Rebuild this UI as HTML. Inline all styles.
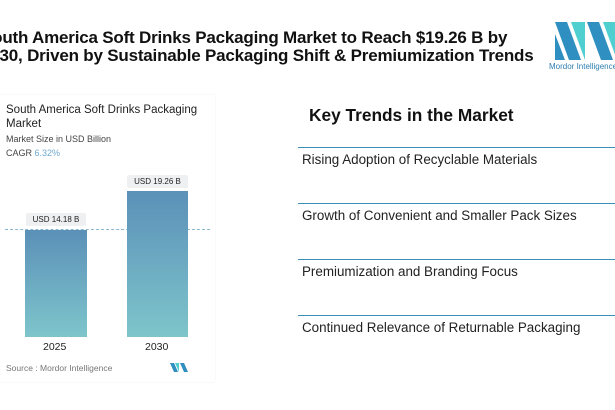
<!DOCTYPE html>
<html><head><style>
body{margin:0;width:615px;height:410px;background:#fff;position:relative;overflow:hidden;font-family:"Liberation Sans",sans-serif;}
.a{position:absolute;white-space:nowrap}
.t{font-weight:bold;font-size:17px;color:#111;letter-spacing:-0.2px}
.line{position:absolute;left:298px;width:317px;height:1px;background:#3a8fb8}
.it{position:absolute;left:302px;font-size:13.4px;color:#222}
.lbl{position:absolute;background:#eef0f2;font-size:8px;color:#222;text-align:center;height:13px;line-height:13px;border-radius:2px}
</style></head><body>
<div class="a t" style="left:-19px;top:28px">South America Soft Drinks Packaging Market to Reach $19.26 B by</div>
<div class="a t" style="left:-19px;top:46px">2030, Driven by Sustainable Packaging Shift &amp; Premiumization Trends</div>
<svg class="a" style="left:555px;top:22px" width="62" height="40"><polygon points="0,0 12,0 26,38 14,38" fill="#2e8fc0"/><polygon points="0,12 0,38 10,38" fill="#2e8fc0"/><polygon points="16,0 30,0 30,38" fill="#4fcfcf"/><polygon points="32,0 44,0 58,38 46,38" fill="#2e8fc0"/><polygon points="48,0 62,0 62,38" fill="#4fcfcf"/></svg>
<div class="a" style="left:549px;top:62px;font-size:8px;color:#2e7fb0">Mordor Intelligence</div>
<div class="a" style="left:0;top:95px;width:215px;height:287px;background:#fff;box-shadow:0 0 2px #eee"></div>
<div class="a" style="left:6px;top:103px;font-size:11.5px;color:#222;line-height:14px">South America Soft Drinks Packaging<br>Market</div>
<div class="a" style="left:6px;top:134px;font-size:9px;color:#444">Market Size in USD Billion</div>
<div class="a" style="left:6px;top:148px;font-size:9px;color:#444">CAGR <span style="color:#6fa8d0">6.32%</span></div>
<div class="a" style="left:5px;top:229px;width:205px;border-top:1px dashed #8ab8d0"></div>
<div class="a" style="left:25px;top:230px;width:62px;height:107px;background:linear-gradient(#5b90b8,#7ec5cb)"></div>
<div class="a" style="left:127px;top:191px;width:61px;height:146px;background:linear-gradient(#5b90b8,#7ec5cb)"></div>
<div class="lbl" style="left:26px;top:213px;width:60px">USD 14.18 B</div>
<div class="lbl" style="left:127px;top:175px;width:61px">USD 19.26 B</div>
<div class="a" style="left:43px;top:341px;font-size:10.5px;color:#222">2025</div>
<div class="a" style="left:145px;top:341px;font-size:10.5px;color:#222">2030</div>
<div class="a" style="left:6px;top:363px;font-size:8.5px;color:#777">Source :  Mordor Intelligence</div>
<svg class="a" style="left:170px;top:363px" width="18" height="9"><polygon points="0,0 4,0 8,9 4,9" fill="#2e8fc0"/><polygon points="5,0 9,0 9,9" fill="#4fcfcf"/><polygon points="10,0 14,0 18,9 14,9" fill="#2e8fc0"/></svg>
<div class="a" style="left:309px;top:105px;font-size:17.3px;font-weight:bold;color:#111">Key Trends in the Market</div>
<div class="line" style="top:147px"></div>
<div class="it" style="top:152px">Rising Adoption of Recyclable Materials</div>
<div class="line" style="top:203px"></div>
<div class="it" style="top:208px">Growth of Convenient and Smaller Pack Sizes</div>
<div class="line" style="top:259px"></div>
<div class="it" style="top:264px">Premiumization and Branding Focus</div>
<div class="line" style="top:315px"></div>
<div class="it" style="top:320px">Continued Relevance of Returnable Packaging</div>
</body></html>
